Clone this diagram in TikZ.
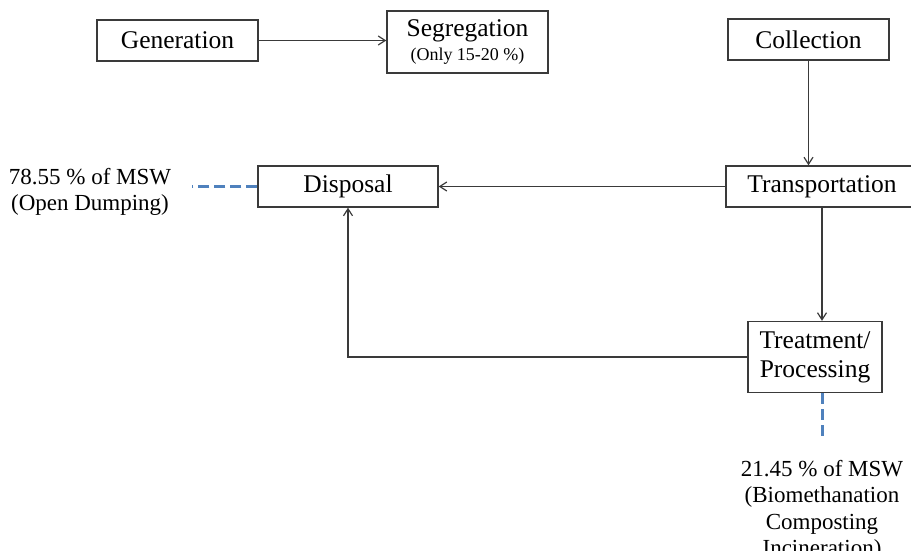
\documentclass[tikz,border=0pt]{standalone}
\usepackage{fontspec}
\setmainfont{Liberation Serif}
\usetikzlibrary{arrows.meta}
\definecolor{lineg}{HTML}{3A3A3A}
\definecolor{dblue}{HTML}{4F81BD}
\tikzset{
 box/.style={draw=lineg, line width=1.4pt, inner sep=0pt, align=center, font=\fontsize{25.5}{29}\selectfont},
 conn/.style={draw=lineg, line width=1.2pt, -{Straight Barb[length=7pt,width=9pt,line width=1.2pt]}},
 blued/.style={draw=dblue, line width=3pt, dash pattern=on 11pt off 5pt},
 lab/.style={inner sep=0pt, align=center, font=\fontsize{23}{26.5}\selectfont},
}
\begin{document}
\begin{tikzpicture}[x=1pt,y=-1pt]
\useasboundingbox (0,0) rectangle (911,551);
\node[box, minimum width=161pt, minimum height=41pt] (gen) at (177.5,40.5) {Generation};
\node[box, minimum width=161pt, minimum height=62pt] (seg) at (467.5,42) {Segregation\\[-5pt]{\fontsize{18}{20}\selectfont (Only 15-20 \%)}};
\node[box, minimum width=161pt, minimum height=41pt] (col) at (808.5,39.5) {Collection};
\node[box, minimum width=192pt, minimum height=41pt] (trans) at (822,186.5) {Transportation};
\node[box, minimum width=180pt, minimum height=41pt] (disp) at (348,186.5) {Disposal};
\node[box, minimum width=134pt, minimum height=71pt] (treat) at (815,357) {Treatment/\\Processing};
\node[lab, anchor=north] (lab1) at (90,168) {78.55 \% of MSW\\(Open Dumping)};
\node[lab, anchor=north] (lab2) at (822,460) {21.45 \% of MSW\\(Biomethanation\\Composting\\Incineration)};
\coordinate (d1) at (192,186.5);
\coordinate (d2) at (822,437);
\draw[conn] (gen.east) -- (gen.east -| seg.west);
\draw[conn] (col.south) -- (col.south |- trans.north);
\draw[conn] (trans.west) -- (disp.east);
\draw[conn] (trans.south) -- (trans.south |- treat.north);
\draw[conn] (treat.west) -| (disp.south);
\draw[blued] (disp.west) -- (d1);
\draw[blued] (treat.south -| trans.south) -- (d2);
\end{tikzpicture}
\end{document}
